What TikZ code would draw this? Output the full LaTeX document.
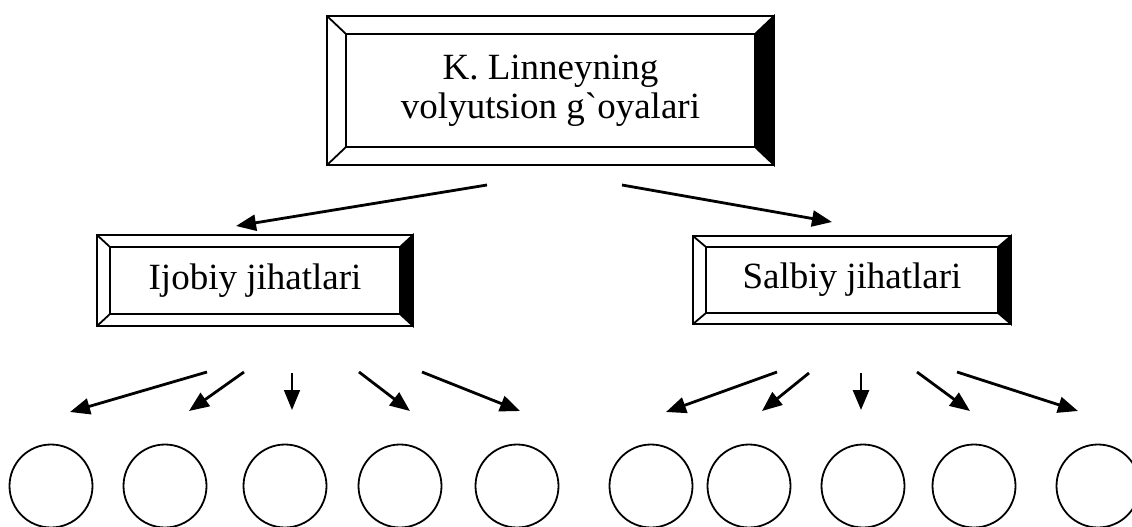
\documentclass[tikz,border=0pt]{standalone}
\usepackage{fontspec}
\setmainfont{Liberation Serif}
\newfontfamily\plainserif{Liberation Serif}
\usetikzlibrary{arrows.meta,calc}

% bevelled frame round an inner box: node, dx, dy
\newcommand{\bevelbox}[3]{%
  \draw[fill=black] (#1.north east) -- ++(#2pt,#3pt)
    -- ($(#1.south east)+(#2pt,-#3pt)$) -- (#1.south east) -- cycle;
  \draw ($(#1.north west)+(-#2pt,#3pt)$) rectangle ($(#1.south east)+(#2pt,-#3pt)$);
  \draw (#1.north west) -- ++(-#2pt,#3pt);
  \draw (#1.south west) -- ++(-#2pt,-#3pt);
}

\begin{document}
\begin{tikzpicture}[
  x=1pt, y=-1pt,
  line width=1.8pt,
  box/.style={draw,rectangle,outer sep=0pt,inner sep=0pt,align=center,
    font=\plainserif\fontsize{37}{39}\selectfont},
  ring/.style={circle,draw,minimum size=83pt,inner sep=0pt,line width=1.8pt},
  arr/.style={-{Triangle[length=20pt,width=16pt]},line width=2.8pt},
  thinarr/.style={-{Triangle[length=20pt,width=16pt]},line width=1.6pt}
]
  \clip (0,0) rectangle (1132,527);

  \node[box,minimum width=409pt,minimum height=113pt] (top) at (550.5,90.5)
    {K. Linneyning\\volyutsion g`oyalari};
  \bevelbox{top}{19}{18}
  \node[box,minimum width=290pt,minimum height=67pt] (ijobiy) at (255,280.5)
    {Ijobiy jihatlari};
  \bevelbox{ijobiy}{13}{12}
  \node[box,minimum width=292pt,minimum height=66pt] (salbiy) at (852,280)
    {Salbiy jihatlari};
  \bevelbox{salbiy}{13}{11}

  \coordinate (t1) at (487,185);
  \coordinate (t2) at (622,185);
  \coordinate (h1) at (236,226);
  \coordinate (h2) at (832,222);
  \draw[arr] (t1) -- (h1);
  \draw[arr] (t2) -- (h2);

  \coordinate (s1) at (207,372);  \coordinate (e1) at (70,412);
  \coordinate (s2) at (244,372);  \coordinate (e2) at (189,411);
  \coordinate (s3) at (292,373);  \coordinate (e3) at (292,410);
  \coordinate (s4) at (359,372);  \coordinate (e4) at (410,411);
  \coordinate (s5) at (422,372);  \coordinate (e5) at (520,411);
  \coordinate (s6) at (777,372);  \coordinate (e6) at (666,412);
  \coordinate (s7) at (809,373);  \coordinate (e7) at (762,411);
  \coordinate (s8) at (861,373);  \coordinate (e8) at (861,410);
  \coordinate (s9) at (917,372);  \coordinate (e9) at (970,411);
  \coordinate (s10) at (957,372); \coordinate (e10) at (1078,411);
  \draw[arr] (s1) -- (e1);
  \draw[arr] (s2) -- (e2);
  \draw[thinarr] (s3) -- (e3);
  \draw[arr] (s4) -- (e4);
  \draw[arr] (s5) -- (e5);
  \draw[arr] (s6) -- (e6);
  \draw[arr] (s7) -- (e7);
  \draw[arr] (s8) -- (e8);
  \draw[arr] (s9) -- (e9);
  \draw[arr] (s10) -- (e10);

  \node[ring] (c1) at (51,486) {};
  \node[ring] (c2) at (165,486) {};
  \node[ring] (c3) at (285,486) {};
  \node[ring] (c4) at (400,486) {};
  \node[ring] (c5) at (517,486) {};
  \node[ring] (c6) at (651,486) {};
  \node[ring] (c7) at (749,486) {};
  \node[ring] (c8) at (863,486) {};
  \node[ring] (c9) at (974,486) {};
  \node[ring] (c10) at (1098,486) {};
\end{tikzpicture}
\end{document}
